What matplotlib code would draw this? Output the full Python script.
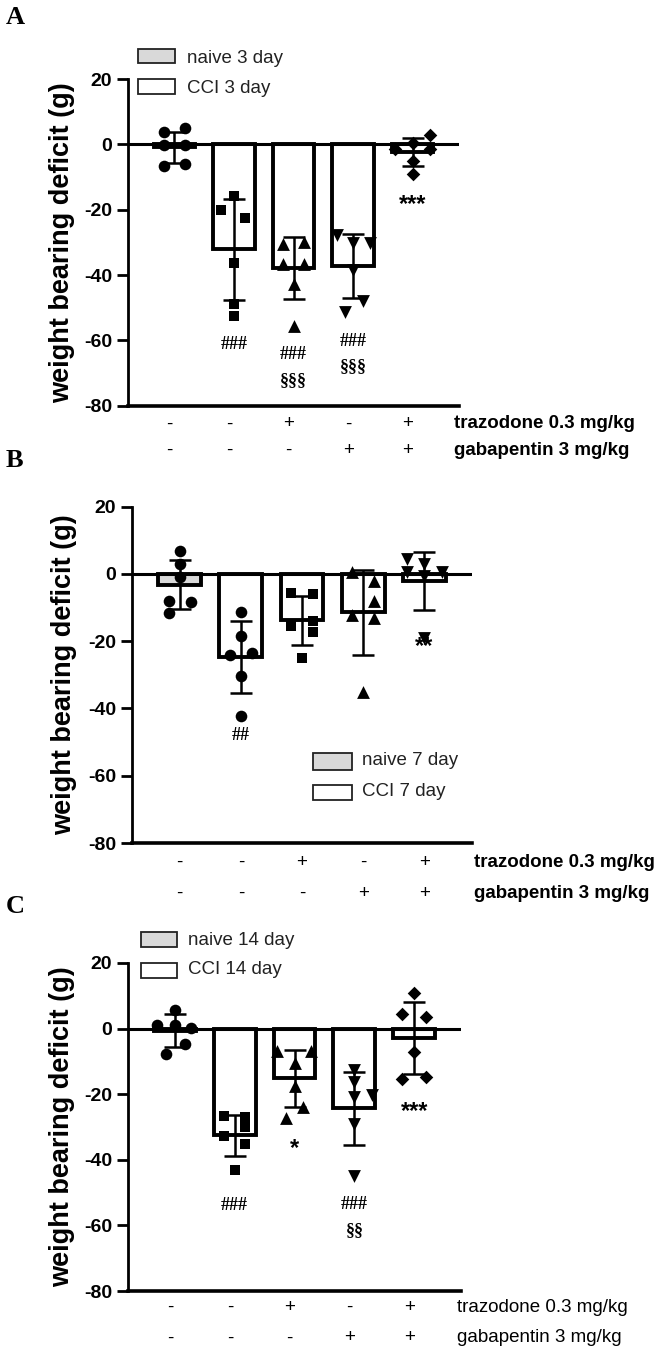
import numpy as np
import matplotlib
matplotlib.use("Agg")
import matplotlib.pyplot as plt
from matplotlib.patches import Rectangle

plt.rcParams['font.family'] = ['Liberation Sans', 'DejaVu Sans']
plt.rcParams['axes.unicode_minus'] = False

# treatment rows under the x axis
traz_signs = ['-', '-', '+', '-', '+']
gaba_signs = ['-', '-', '-', '+', '+']
traz_label = 'trazodone 0.3 mg/kg'
gaba_label = 'gabapentin 3 mg/kg'

# panel A: 3 day
A_mean = [-0.9, -32.1, -37.8, -37.2, -2.3]
A_sd = [4.8, 15.5, 9.4, 9.8, 4.2]
A_pts = [
    [3.9, 5.1, -0.3, -0.3, -6.7, -5.9],
    [-15.8, -20.2, -22.4, -36.2, -49.0, -52.6],
    [-30.6, -29.9, -36.7, -36.7, -42.6, -55.6],
    [-27.8, -30.1, -30.1, -38.6, -48.0, -51.3],
    [2.9, -1.5, 0.3, -1.5, -5.1, -9.2],
]
A_notes = [(1, -61.2, '###'), (2, -64.4, '###'), (2, -72.2, '§§§'),
           (3, -60.4, '###'), (3, -68.1, '§§§'), (4, -18.3, '***')]
A_legend = ['naive 3 day', 'CCI 3 day']

# panel B: 7 day
B_mean = [-3.2, -24.8, -13.8, -11.4, -2.2]
B_sd = [7.3, 10.7, 7.3, 12.6, 8.6]
B_pts = [
    [6.9, 3.0, -1.0, -7.9, -8.4, -11.7],
    [-11.2, -18.5, -24.0, -23.6, -30.2, -42.1],
    [-5.6, -5.9, -15.6, -13.9, -17.3, -25.0],
    [0.5, -2.2, -8.1, -12.1, -13.1, -35.1],
    [4.3, 3.0, 0.5, 0.5, -0.5, -19.0],
]
B_notes = [(1, -48.1, '##'), (4, -21.6, '**')]
B_legend = ['naive 7 day', 'CCI 7 day']

# panel C: 14 day
C_mean = [-0.6, -32.5, -15.2, -24.3, -2.9]
C_sd = [4.9, 6.2, 8.6, 11.1, 11.0]
C_pts = [
    [5.8, 1.2, 1.2, 0.2, -4.6, -7.6],
    [-26.7, -27.1, -30.0, -32.7, -35.1, -43.2],
    [-6.9, -6.9, -10.5, -17.6, -23.9, -27.2],
    [-12.7, -16.3, -21.0, -20.3, -29.0, -45.0],
    [10.9, 4.6, 3.4, -7.1, -15.5, -14.9],
]
C_notes = [(1, -53.9, '###'), (2, -36.5, '*'), (3, -53.6, '###'),
           (3, -61.5, '§§'), (4, -25.4, '***')]
C_legend = ['naive 14 day', 'CCI 14 day']

# horizontal spread of the dots inside each group (layout only)
A_jit = [[-0.18, 0.18, -0.18, 0.18, -0.18, 0.18],
         [0.0, -0.21, 0.19, 0.0, 0.0, 0.0],
         [-0.18, 0.18, -0.18, 0.18, 0.0, 0.0],
         [-0.27, 0.0, 0.28, 0.0, 0.16, -0.13],
         [0.29, -0.29, 0.0, 0.29, 0.0, 0.0]]
B_jit = [[0.0, 0.0, 0.0, -0.18, 0.19, -0.18],
         [0.0, 0.0, -0.18, 0.18, 0.0, 0.0],
         [-0.18, 0.18, -0.18, 0.18, 0.18, 0.0],
         [-0.18, 0.18, 0.18, -0.18, 0.18, 0.0],
         [-0.29, 0.0, 0.29, -0.29, 0.0, 0.0]]
C_jit = [[0.0, -0.3, 0.0, 0.28, 0.17, -0.14],
         [-0.18, 0.18, 0.18, -0.18, 0.18, 0.0],
         [-0.3, 0.28, 0.0, 0.0, 0.14, -0.15],
         [0.0, 0.0, 0.0, 0.29, 0.0, 0.0],
         [0.0, -0.2, 0.2, 0.0, -0.2, 0.2]]

GREY = '#d9d9d9'
W, H = 666, 1355
MSIZE = {'o': 70, 's': 62, '^': 85, 'v': 85, 'D': 48}


def px_axes(left, right, top, bottom):
    # pixel box -> figure fraction
    return [left / W, 1 - bottom / H, (right - left) / W, (bottom - top) / H]


def draw_panel(ax, means, sds, pts, jit, markers, notes, legend, leg_box, row_y,
               lab_x, sign_dx, row_weight, ylab_x):
    x = np.arange(5)
    colors = [GREY, 'white', 'white', 'white', 'white']
    ax.bar(x, means, width=0.7, color=colors, edgecolor='black', linewidth=2.8, zorder=1)
    ax.axhline(0, color='black', lw=2.2, zorder=2)

    for i in range(5):
        ax.scatter(x[i] + np.array(jit[i]), pts[i], marker=markers[i], s=MSIZE[markers[i]],
                   color='black', linewidths=0, zorder=3)

    ax.errorbar(x, means, yerr=sds, fmt='none', ecolor='black', elinewidth=1.8,
                capsize=8, capthick=1.8, zorder=4)

    for gi, yv, txt in notes:
        if txt.startswith('*'):
            ax.text(gi, yv, txt, ha='center', va='center', fontsize=17,
                    fontweight='bold', zorder=5)
        else:
            ax.text(gi, yv, txt, ha='center', va='center', fontsize=13,
                    fontweight='bold', family='Liberation Serif', zorder=5)

    ax.set_xlim(-0.78, 4.78)
    ax.set_ylim(-80, 20)
    ax.set_yticks([-80, -60, -40, -20, 0, 20])
    ax.set_xticks([])
    ax.spines['top'].set_visible(False)
    ax.spines['right'].set_visible(False)
    ax.spines['left'].set_linewidth(2.0)
    ax.spines['bottom'].set_linewidth(2.6)
    ax.tick_params(axis='y', length=8, width=2.0, labelsize=14)
    for lab in ax.get_yticklabels():
        lab.set_fontweight('bold')
    ax.set_ylabel('weight bearing deficit (g)', fontsize=19.5, fontweight='bold')
    ax.yaxis.set_label_coords(ylab_x, 0.5)

    # legend drawn by hand: two boxes with text beside them
    bx0, bx1, boxes, tx, ty = leg_box
    for (yb, yt), fill, txt, yy in zip(boxes, [GREY, 'white'], legend, ty):
        ax.add_patch(Rectangle((bx0, yb), bx1 - bx0, yt - yb, transform=ax.transAxes,
                               facecolor=fill, edgecolor='#222222', lw=1.3, clip_on=False))
        ax.text(tx, yy, txt, transform=ax.transAxes, ha='left', va='center',
                fontsize=13.5, color='#222222')

    # treatment rows
    trans = ax.get_xaxis_transform()
    for signs, yr, lab in [(traz_signs, row_y[0], traz_label), (gaba_signs, row_y[1], gaba_label)]:
        for i, s in enumerate(signs):
            ax.text(i + sign_dx, yr, s, transform=trans, ha='center', va='center',
                    fontsize=13.5, clip_on=False)
        ax.text(lab_x, yr, lab, transform=ax.transAxes, ha='left', va='center',
                fontsize=13.5, fontweight=row_weight, clip_on=False)


fig = plt.figure(figsize=(6.66, 13.55), dpi=100)

axA = fig.add_axes(px_axes(128, 459, 79, 405.7))
draw_panel(axA, A_mean, A_sd, A_pts, A_jit, ['o', 's', '^', 'v', 'D'], A_notes, A_legend,
           (0.030, 0.142, [(1.049, 1.092), (0.954, 1.0)], 0.178, [1.064, 0.972]),
           (-0.056, -0.136), 0.985, -0.08, 'bold', -0.16)

axB = fig.add_axes(px_axes(132, 472, 506.7, 843))
draw_panel(axB, B_mean, B_sd, B_pts, B_jit, ['o', 'o', 's', '^', 'v'], B_notes, B_legend,
           (0.532, 0.647, [(0.217, 0.268), (0.128, 0.172)], 0.676, [0.244, 0.152]),
           (-0.0565, -0.149), 1.006, 0.0, 'bold', -0.162)

axC = fig.add_axes(px_axes(128, 461, 963, 1291))
draw_panel(axC, C_mean, C_sd, C_pts, C_jit, ['o', 's', '^', 'v', 'D'], C_notes, C_legend,
           (0.039, 0.147, [(1.049, 1.095), (0.954, 1.0)], 0.18, [1.070, 0.979]),
           (-0.049, -0.143), 0.988, -0.08, 'normal', -0.16)

for lab, ytop in [('A', 6), ('B', 449), ('C', 895)]:
    fig.text(6 / W, 1 - ytop / H, lab, ha='left', va='top', fontsize=19,
             fontweight='bold', family='Liberation Serif')

fig.savefig('out.png', dpi=100)
